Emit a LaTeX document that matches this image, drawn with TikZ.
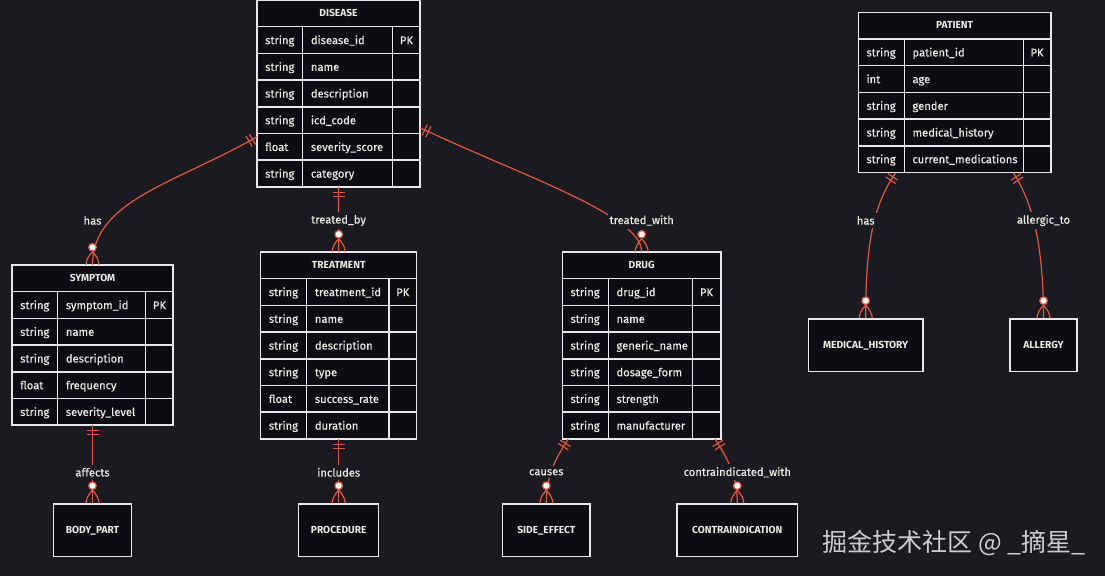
\documentclass[tikz,border=0pt]{standalone}
\usepackage{fontspec}
\setmainfont{Fira Sans}
\newfontfamily\medfont[FakeBold=0.35]{Fira Sans}
\newfontfamily\cjkfont{Noto Sans CJK SC}
\usetikzlibrary{calc,fit}
\definecolor{bgc}{RGB}{27,26,32}
\definecolor{tfill}{RGB}{13,12,19}
\definecolor{tborder}{RGB}{232,232,236}
\definecolor{edgec}{RGB}{224,88,64}
\definecolor{txt}{RGB}{236,234,228}
\definecolor{wmc}{RGB}{205,205,208}

\newcommand{\ertab}[9]{%
  \pgfmathsetmacro{\ertbot}{#6+(#7+1)*26.7}
  \fill[tfill] (#2,#6) rectangle (#5,\ertbot);
  \node[fit={(#2,#6)(#5,\ertbot)}, inner sep=0pt] (#1) {};
  \foreach \k in {1,...,#7} \draw[tline] (#2,{#6+\k*26.7}) -- (#5,{#6+\k*26.7});
  \draw[tline] (#3,{#6+26.7}) -- (#3,\ertbot) (#4,{#6+26.7}) -- (#4,\ertbot);
  \draw[tline] (#2,#6) rectangle (#5,\ertbot);
  \node[titletext] at ({(#2+#5)/2}, {#6+13.6}) {#8};
  \foreach \ty/\nm/\pk [count=\i] in {#9} {
    \node[celltext] at ({#2+8}, {#6+\i*26.7+14.8}) {\ty};
    \node[celltext] at ({#3+8}, {#6+\i*26.7+14.8}) {\nm};
    \node[celltext] at ({#4+7}, {#6+\i*26.7+14.8}) {\pk};
  }
}

\tikzset{
  edge/.style={draw=edgec, line width=1.2pt},
  tline/.style={draw=tborder, line width=1.5pt},
  celltext/.style={anchor=mid west, inner sep=0pt, text=txt, font=\medfont\fontsize{11.2}{13}\selectfont},
  titletext/.style={anchor=mid, inner sep=0pt, text=txt, font=\bfseries\fontsize{10.2}{12}\selectfont},
  lbl/.style={fill=bgc, inner xsep=2pt, inner ysep=3pt, text=txt, font=\medfont\fontsize{11.2}{13}\selectfont},
  ebox/.style={draw=tborder, line width=1.5pt, fill=tfill, text=txt, font=\bfseries\fontsize{10.2}{12}\selectfont, inner sep=0pt},
  mone/.pic={\draw[edge] (5,-6) -- (5,6) (9,-6) -- (9,6);},
  zmany/.pic={
    \draw[edge] (13,0) .. controls (9,4) and (4,6.5) .. (0,6.5)
                (13,0) .. controls (9,-4) and (4,-6.5) .. (0,-6.5);
    \draw[edge, fill=white] (17.5,0) circle (3.8);
  }
}

\begin{document}
\begin{tikzpicture}[x=1pt,y=-1pt]
\useasboundingbox[fill=bgc] (0,0) rectangle (1105,576);

% tables
\ertab{disease}{257}{302.7}{392.7}{420}{0}{6}{DISEASE}{string/disease\_id/PK, string/name/{}, string/description/{}, string/icd\_code/{}, float/severity\_score/{}, string/category/{}}
\ertab{symptom}{12}{57.7}{145.7}{173}{265}{5}{SYMPTOM}{string/symptom\_id/PK, string/name/{}, string/description/{}, float/frequency/{}, string/severity\_level/{}}
\ertab{treatment}{260.7}{306.7}{389}{416.7}{252}{6}{TREATMENT}{string/treatment\_id/PK, string/name/{}, string/description/{}, string/type/{}, float/success\_rate/{}, string/duration/{}}
\ertab{drug}{562.3}{608.3}{692.7}{721}{252}{6}{DRUG}{string/drug\_id/PK, string/name/{}, string/generic\_name/{}, string/dosage\_form/{}, string/strength/{}, string/manufacturer/{}}
\ertab{patient}{858.3}{904.3}{1023.3}{1051}{12.3}{5}{PATIENT}{string/patient\_id/PK, int/age/{}, string/gender/{}, string/medical\_history/{}, string/current\_medications/{}}

% simple entities
\node[ebox, minimum width=78.4pt, minimum height=52.7pt] (bodypart) at (92.5,530.3) {BODY\_PART};
\node[ebox, minimum width=80pt, minimum height=52.7pt] (procedure) at (338.7,530.3) {PROCEDURE};
\node[ebox, minimum width=87.3pt, minimum height=52.7pt] (sideeffect) at (546.3,530.3) {SIDE\_EFFECT};
\node[ebox, minimum width=120.7pt, minimum height=52.7pt] (contra) at (737.3,530.3) {CONTRAINDICATION};
\node[ebox, minimum width=114.7pt, minimum height=52.7pt] (medhist) at (865.7,345.3) {MEDICAL\_HISTORY};
\node[ebox, minimum width=67pt, minimum height=52.7pt] (allergy) at (1043.5,345.3) {ALLERGY};

% DISEASE -- SYMPTOM
\draw[edge] ($(disease.north west)+(0,137)$) coordinate (d1) .. controls (177,183) and (92.5,200) .. (symptom.north);
\pic[rotate=210] at (d1) {mone};
\pic[rotate=90] at (symptom.north) {zmany};
\node[lbl] (l1) at (92.5,220.5) {has};

% DISEASE -- TREATMENT
\draw[edge] (disease.south) -- (treatment.north);
\pic[rotate=-90] at (disease.south) {mone};
\pic[rotate=90] at (treatment.north) {zmany};
\node[lbl] (l2) at (338.6,220.5) {treated\_by};

% DISEASE -- DRUG
\draw[edge] ($(disease.north east)+(0,128)$) coordinate (d3) .. controls (520,175) and (641.7,215) .. (drug.north);
\pic[rotate=-25.4] at (d3) {mone};
\pic[rotate=90] at (drug.north) {zmany};
\node[lbl] (l3) at (641.7,220.5) {treated\_with};

% SYMPTOM -- BODY_PART
\draw[edge] (symptom.south) -- (bodypart.north);
\pic[rotate=-90] at (symptom.south) {mone};
\pic[rotate=90] at (bodypart.north) {zmany};
\node[lbl] (l4) at (92.5,472.3) {affects};

% TREATMENT -- PROCEDURE
\draw[edge] (treatment.south) -- (procedure.north);
\pic[rotate=-90] at (treatment.south) {mone};
\pic[rotate=90] at (procedure.north) {zmany};
\node[lbl] (l5) at (338.7,472.3) {includes};

% DRUG -- SIDE_EFFECT
\draw[edge] ($(drug.south west)+(6,0)$) coordinate (d6) .. controls (556,458) and (546.3,475) .. (sideeffect.north);
\pic[rotate=-122.9] at (d6) {mone};
\pic[rotate=90] at (sideeffect.north) {zmany};
\node[lbl] (l6) at (546.3,472.3) {causes};

% DRUG -- CONTRAINDICATION
\draw[edge] ($(drug.south east)+(-6,0)$) coordinate (d7) .. controls (727,458) and (737.3,475) .. (contra.north);
\pic[rotate=-57.7] at (d7) {mone};
\pic[rotate=90] at (contra.north) {zmany};
\node[lbl] (l7) at (737.3,472.3) {contraindicated\_with};

% PATIENT -- MEDICAL_HISTORY
\draw[edge] ($(patient.south west)+(37.5,0)$) coordinate (d8) .. controls (874,205) and (865.7,240) .. (medhist.north);
\pic[rotate=-123.9] at (d8) {mone};
\pic[rotate=90] at (medhist.north) {zmany};
\node[lbl] (l8) at (865.7,220.5) {has};

% PATIENT -- ALLERGY
\draw[edge] ($(patient.south east)+(-38,0)$) coordinate (d9) .. controls (1031,200) and (1043.5,240) .. (allergy.north);
\pic[rotate=-56.8] at (d9) {mone};
\pic[rotate=90] at (allergy.north) {zmany};
\node[lbl] (l9) at (1043.5,220.5) {allergic\_to};

% watermark
\node[text=wmc, font=\cjkfont\fontsize{25}{29}\selectfont, inner sep=0pt] (wm) at (954,543) {掘金技术社区 @ \_摘星\_};
\end{tikzpicture}
\end{document}
